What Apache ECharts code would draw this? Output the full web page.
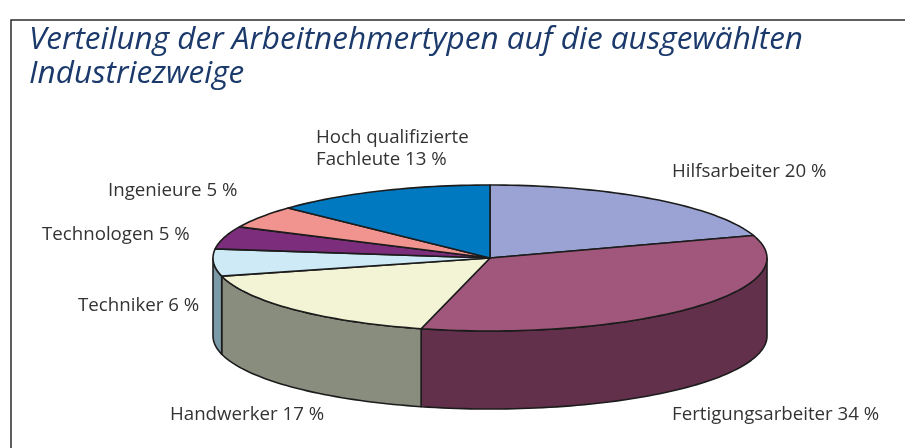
<!DOCTYPE html>
<html>
<head>
<meta charset="utf-8">
<script src="https://cdn.jsdelivr.net/npm/echarts@6/dist/echarts.min.js"></script>
<style>
  html, body { margin: 0; padding: 0; background: #ffffff; }
  #chart { width: 905px; height: 448px; }
</style>
</head>
<body>
<div id="chart"></div>
<script>
// Anteile der Arbeitnehmertypen (in %), im Uhrzeigersinn ab 12 Uhr
const categories = [
  'Hilfsarbeiter',
  'Fertigungsarbeiter',
  'Handwerker',
  'Techniker',
  'Technologen',
  'Ingenieure',
  'Hoch qualifizierte\nFachleute'
];
const shares = [20, 34, 17, 6, 5, 5, 13];

// Farben: Deckfläche und Mantel je Segment
const topColors  = ['#9aa3d3', '#a0577b', '#f3f3d5', '#cdeaf6', '#7c2d7b', '#f1948f', '#0079c1'];
const sideColors = ['#6c739a', '#63304b', '#888d7d', '#7b9aa8', '#561f56', '#a86864', '#005587'];

// Beschriftungspositionen (links, vertikale Mitte)
const labelAnchors = [[672, 172], [672, 415], [170, 415], [78, 306], [42, 235], [108, 191], [316, 149]];

const titleText = 'Verteilung der Arbeitnehmertypen auf die ausgewählten\nIndustriezweige';

// Geometrie der perspektivischen Torte
const CX = 490, CY = 258, RX = 277, RY = 73, DEPTH = 78;
const DEG = Math.PI / 180;

function pt(a, dy) {
  return [CX + RX * Math.cos(a * DEG), CY - RY * Math.sin(a * DEG) + (dy || 0)];
}
function arc(a1, a2, dy) {
  // Punkte entlang der Ellipse von a1 nach a2
  const n = Math.max(2, Math.ceil(Math.abs(a1 - a2) / 1.5));
  const out = [];
  for (let i = 0; i <= n; i++) out.push(pt(a1 + (a2 - a1) * i / n, dy));
  return out;
}

let cum = 0;
const sliceData = shares.map((v, i) => {
  const item = { name: categories[i], value: [cum, cum + v, i] };
  cum += v;
  return item;
});

const stroke = { stroke: '#1c1c1c', lineWidth: 1.6, lineJoin: 'round' };

function renderSlice(params, api) {
  const p0 = api.value(0), p1 = api.value(1), idx = api.value(2);
  const a1 = 90 - p0 * 3.6;   // Startwinkel
  const a2 = 90 - p1 * 3.6;   // Endwinkel (im Uhrzeigersinn)
  const children = [];
  // sichtbarer Mantel: nur vordere Hälfte (-180° .. 0°)
  const hi = Math.min(a1, 0), lo = Math.max(a2, -180);
  if (lo < hi) {
    const pts = arc(hi, lo, 0).concat(arc(lo, hi, DEPTH));
    children.push({
      type: 'polygon',
      shape: { points: pts },
      style: Object.assign({ fill: sideColors[idx] }, stroke)
    });
  }
  const topPts = [[CX, CY]].concat(arc(a1, a2, 0));
  children.push({
    type: 'polygon',
    shape: { points: topPts },
    style: Object.assign({ fill: topColors[idx] }, stroke)
  });
  return { type: 'group', children: children };
}

const labelFont = '18.7px "Open Sans", sans-serif';
const graphics = [
  {
    type: 'rect', silent: true, z: 0,
    shape: { x: 11, y: 20, width: 1000, height: 1000 },
    style: { fill: 'none', stroke: '#2b2b2b', lineWidth: 1.5 }
  },
  {
    type: 'text', z: 10,
    x: 29, y: 23,
    style: {
      text: titleText,
      font: 'italic 31.5px "Open Sans", sans-serif',
      fill: '#1b3a6b',
      lineHeight: 34,
      verticalAlign: 'top'
    }
  }
];
categories.forEach((name, i) => {
  graphics.push({
    type: 'text', z: 10,
    x: labelAnchors[i][0], y: labelAnchors[i][1],
    style: {
      text: name + ' ' + shares[i] + ' %',
      font: labelFont,
      fill: '#333333',
      lineHeight: 22,
      verticalAlign: 'middle',
      align: 'left'
    }
  });
});

const chart = echarts.init(document.getElementById('chart'), null, { renderer: 'canvas' });
chart.setOption({
  animation: false,
  backgroundColor: '#ffffff',
  graphic: graphics,
  series: [{
    type: 'custom',
    coordinateSystem: 'none',
    renderItem: renderSlice,
    data: sliceData,
    silent: true
  }]
});
</script>
</body>
</html>
